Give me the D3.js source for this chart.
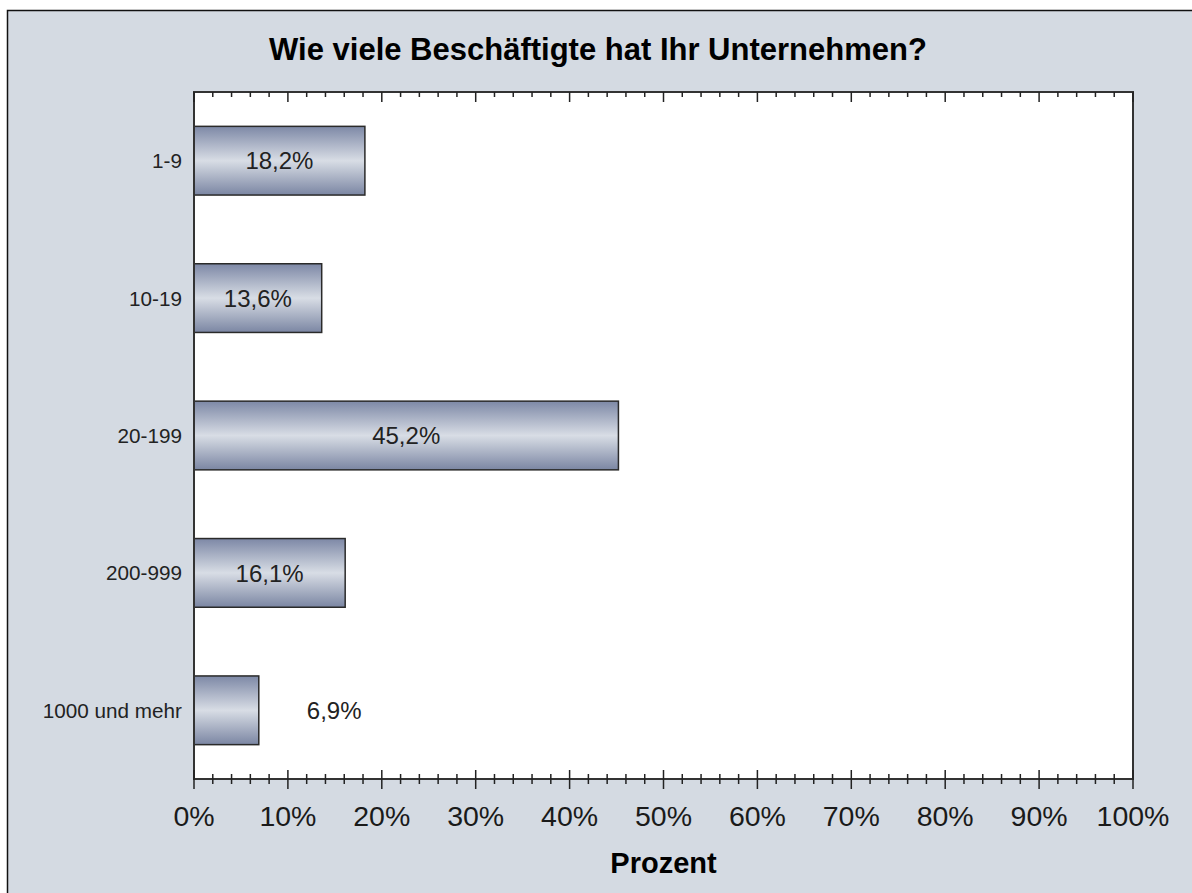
<!DOCTYPE html>
<html><head><meta charset="utf-8">
<script src="https://cdn.jsdelivr.net/npm/d3@7"></script>
<style>html,body{margin:0;padding:0;background:#fff}svg{display:block}</style>
</head><body>
<svg id="c" width="1192" height="893"></svg>
<script>
const categories = ["1-9", "10-19", "20-199", "200-999", "1000 und mehr"];
const values = [18.2, 13.6, 45.2, 16.1, 6.9];
const valueLabels = ["18,2%", "13,6%", "45,2%", "16,1%", "6,9%"];
const majorTicks = [0, 10, 20, 30, 40, 50, 60, 70, 80, 90, 100];
const tickLabels = ["0%", "10%", "20%", "30%", "40%", "50%", "60%", "70%", "80%", "90%", "100%"];
const minorTicks = d3.range(0, 101, 2).filter(v => v % 10 !== 0);
const title = "Wie viele Beschäftigte hat Ihr Unternehmen?";
const xTitle = "Prozent";

const svg = d3.select("#c");
const font = "'Liberation Sans', Arial, sans-serif";

// background frame
svg.append("rect").attr("x", 0).attr("y", 0).attr("width", 1192).attr("height", 893).attr("fill", "#ffffff");
svg.append("rect").attr("x", 7.5).attr("y", 10.5).attr("width", 1200).attr("height", 900)
  .attr("fill", "#d4dae2").attr("stroke", "#111").attr("stroke-width", 1.5);

const L = 194, R = 1133, T = 92, B = 779;
const x = d3.scaleLinear().domain([0, 100]).range([L, R]);
const y = d3.scaleBand().domain(categories).range([T, B]).paddingInner(0.5).paddingOuter(0.25);

// gradient
const defs = svg.append("defs");
const g = defs.append("linearGradient").attr("id", "bg").attr("x1", 0).attr("y1", 0).attr("x2", 0).attr("y2", 1);
g.append("stop").attr("offset", "0%").attr("stop-color", "#7d88a6");
g.append("stop").attr("offset", "50%").attr("stop-color", "#d8dde5");
g.append("stop").attr("offset", "100%").attr("stop-color", "#7b86a3");

// plot area
svg.append("rect").attr("x", L).attr("y", T).attr("width", R - L).attr("height", B - T).attr("fill", "#ffffff");

// bars
svg.selectAll("rect.bar").data(values).enter().append("rect").attr("class", "bar")
  .attr("x", x(0)).attr("y", (d, i) => y(categories[i]))
  .attr("width", d => x(d) - x(0)).attr("height", y.bandwidth())
  .attr("fill", "url(#bg)").attr("stroke", "#2a2a2a").attr("stroke-width", 1.5);

// value labels
svg.selectAll("text.vl").data(values).enter().append("text").attr("class", "vl")
  .attr("x", (d, i) => d < 10 ? x(d) + 48 : (x(0) + x(d)) / 2)
  .attr("y", (d, i) => y(categories[i]) + y.bandwidth() / 2)
  .attr("dy", "0.36em")
  .attr("text-anchor", d => d < 10 ? "start" : "middle")
  .attr("font-family", font).attr("font-size", 24).attr("fill", "#222")
  .text((d, i) => valueLabels[i]);

// plot border
svg.append("rect").attr("x", L).attr("y", T).attr("width", R - L).attr("height", B - T)
  .attr("fill", "none").attr("stroke", "#333").attr("stroke-width", 2);

// top ticks (inward)
const ticksG = svg.append("g").attr("stroke", "#222").attr("stroke-width", 1.5);
minorTicks.forEach(v => ticksG.append("line").attr("x1", x(v)).attr("x2", x(v)).attr("y1", T).attr("y2", T + 5));
majorTicks.forEach(v => ticksG.append("line").attr("x1", x(v)).attr("x2", x(v)).attr("y1", T).attr("y2", T + 10));
// bottom ticks (crossing)
minorTicks.forEach(v => ticksG.append("line").attr("x1", x(v)).attr("x2", x(v)).attr("y1", B - 5).attr("y2", B + 5));
majorTicks.forEach(v => ticksG.append("line").attr("x1", x(v)).attr("x2", x(v)).attr("y1", B - 9).attr("y2", B + 10));

// bottom tick labels
svg.selectAll("text.tl").data(majorTicks).enter().append("text").attr("class", "tl")
  .attr("x", d => x(d)).attr("y", 826).attr("text-anchor", "middle")
  .attr("font-family", font).attr("font-size", 28.5).attr("fill", "#1a1a1a")
  .text((d, i) => tickLabels[i]);

// category labels
svg.selectAll("text.cl").data(categories).enter().append("text").attr("class", "cl")
  .attr("x", L - 12).attr("y", d => y(d) + y.bandwidth() / 2).attr("dy", "0.36em")
  .attr("text-anchor", "end").attr("font-family", font).attr("font-size", 20.7).attr("fill", "#222")
  .text(d => d);

// title
svg.append("text").attr("x", 598).attr("y", 60).attr("text-anchor", "middle")
  .attr("font-family", font).attr("font-size", 31).attr("font-weight", "bold").attr("fill", "#000")
  .text(title);

// x axis title
svg.append("text").attr("x", (L + R) / 2).attr("y", 873).attr("text-anchor", "middle")
  .attr("font-family", font).attr("font-size", 29).attr("font-weight", "bold").attr("fill", "#000")
  .text(xTitle);
</script>
</body></html>
